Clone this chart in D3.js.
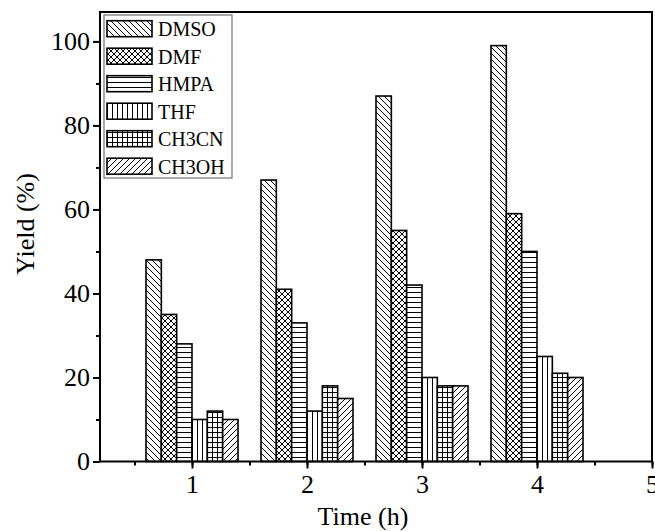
<!DOCTYPE html>
<html>
<head>
<meta charset="utf-8">
<script src="https://cdn.jsdelivr.net/npm/d3@7"></script>
<style>
  html, body { margin: 0; padding: 0; background: #fff; }
  svg { display: block; }
  text { font-family: "Liberation Serif", "Times New Roman", serif; fill: #000; }
</style>
</head>
<body>
<svg id="chart" width="655" height="531"></svg>
<script>
// Reaction yield over time in six solvents
const times = [1, 2, 3, 4];
const solvents = ["DMSO", "DMF", "HMPA", "THF", "CH3CN", "CH3OH"];
const DMSO  = [48, 67, 87, 99];
const DMF   = [35, 41, 55, 59];
const HMPA  = [28, 33, 42, 50];
const THF   = [10, 12, 20, 25];
const CH3CN = [12, 18, 18, 21];
const CH3OH = [10, 15, 18, 20];
const seriesValues = [DMSO, DMF, HMPA, THF, CH3CN, CH3OH];
const xTicks = [1, 2, 3, 4, 5];
const yTicks = [0, 20, 40, 60, 80, 100];

const svg = d3.select("#chart");
const plotL = 100, plotR = 652, plotT = 12, plotB = 461.5;

const x = d3.scaleLinear().domain([0.2, 5]).range([plotL, plotR]);
const y = d3.scaleLinear().domain([0, 107]).range([plotB, plotT]);

// hatch patterns, one per solvent
const defs = svg.append("defs");
function pattern(id, size, draw) {
  const p = defs.append("pattern").attr("id", id)
    .attr("patternUnits", "userSpaceOnUse")
    .attr("width", size).attr("height", size);
  p.append("rect").attr("width", size).attr("height", size).attr("fill", "#fff");
  draw(p, size);
}
const ln = (p, x1, y1, x2, y2) => p.append("line")
  .attr("x1", x1).attr("y1", y1).attr("x2", x2).attr("y2", y2)
  .attr("stroke", "#000").attr("stroke-width", 1);

pattern("p0", 6, (p, s) => { ln(p, 0, 0, s, s); ln(p, -s, 0, s, 2*s); ln(p, 0, -s, 2*s, s); });
pattern("p1", 6, (p, s) => {
  ln(p, 0, 0, s, s); ln(p, -s, 0, s, 2*s); ln(p, 0, -s, 2*s, s);
  ln(p, 0, s, s, 0); ln(p, -s, s, s, -s); ln(p, 0, 2*s, 2*s, 0);
});
pattern("p2", 5, (p, s) => { ln(p, 0, 2.5, s, 2.5); });
pattern("p3", 5, (p, s) => { ln(p, 2.5, 0, 2.5, s); });
pattern("p4", 5, (p, s) => { ln(p, 0, 2.5, s, 2.5); ln(p, 2.5, 0, 2.5, s); });
pattern("p5", 6, (p, s) => { ln(p, 0, s, s, 0); ln(p, -s, s, s, -s); ln(p, 0, 2*s, 2*s, 0); });

// bars
const groupWidth = 0.8;
const barW = groupWidth / solvents.length;
solvents.forEach((name, i) => {
  svg.append("g").selectAll("rect")
    .data(seriesValues[i].map((v, j) => ({ t: times[j], v })))
    .join("rect")
    .attr("x", d => x(d.t - groupWidth / 2 + i * barW))
    .attr("width", d => x(d.t - groupWidth / 2 + (i + 1) * barW) - x(d.t - groupWidth / 2 + i * barW))
    .attr("y", d => y(d.v))
    .attr("height", d => y(0) - y(d.v))
    .attr("fill", `url(#p${i})`)
    .attr("stroke", "#000")
    .attr("stroke-width", 1.6);
});

// frame
svg.append("rect").attr("x", plotL).attr("y", plotT)
  .attr("width", plotR - plotL).attr("height", plotB - plotT)
  .attr("fill", "none").attr("stroke", "#000").attr("stroke-width", 2);

// x axis
const xAxis = svg.append("g").attr("transform", `translate(0,${plotB})`);
xAxis.append("g").call(d3.axisBottom(x).tickValues(d3.range(0.5, 5.01, 0.5)).tickSize(4).tickFormat(""))
  .call(g => g.select(".domain").remove());
xAxis.append("g").call(d3.axisBottom(x).tickValues(xTicks).tickSize(7).tickPadding(6).tickFormat(d3.format("d")))
  .call(g => g.select(".domain").remove());
xAxis.selectAll("line").attr("stroke-width", 2);
xAxis.selectAll("text").attr("font-size", 26).attr("font-family", "Liberation Serif");

// y axis
const yAxis = svg.append("g").attr("transform", `translate(${plotL},0)`);
yAxis.append("g").call(d3.axisLeft(y).tickValues(d3.range(10, 101, 20)).tickSize(4).tickFormat(""))
  .call(g => g.select(".domain").remove());
yAxis.append("g").call(d3.axisLeft(y).tickValues(yTicks).tickSize(7).tickPadding(3).tickFormat(d3.format("d")))
  .call(g => g.select(".domain").remove());
yAxis.selectAll("line").attr("stroke-width", 2);
yAxis.selectAll("text").attr("font-size", 26).attr("font-family", "Liberation Serif");

// axis titles
svg.append("text").attr("x", (314 + 412) / 2).attr("y", 525)
  .attr("text-anchor", "middle").attr("font-size", 26).text("Time (h)");
svg.append("text").attr("transform", "translate(34,224) rotate(-90)")
  .attr("text-anchor", "middle").attr("font-size", 26).text("Yield (%)");

// legend
const legend = svg.append("g");
legend.append("rect").attr("x", 104).attr("y", 15).attr("width", 128).attr("height", 163)
  .attr("fill", "#fff").attr("stroke", "#555").attr("stroke-width", 1);
solvents.forEach((name, i) => {
  const ry = 20.7 + i * 27.5;
  legend.append("rect").attr("x", 107).attr("y", ry).attr("width", 45).attr("height", 16)
    .attr("fill", `url(#p${i})`).attr("stroke", "#000").attr("stroke-width", 1.6);
  legend.append("text").attr("x", 158).attr("y", ry + 15.5)
    .attr("font-size", 20).text(name);
});
</script>
</body>
</html>
